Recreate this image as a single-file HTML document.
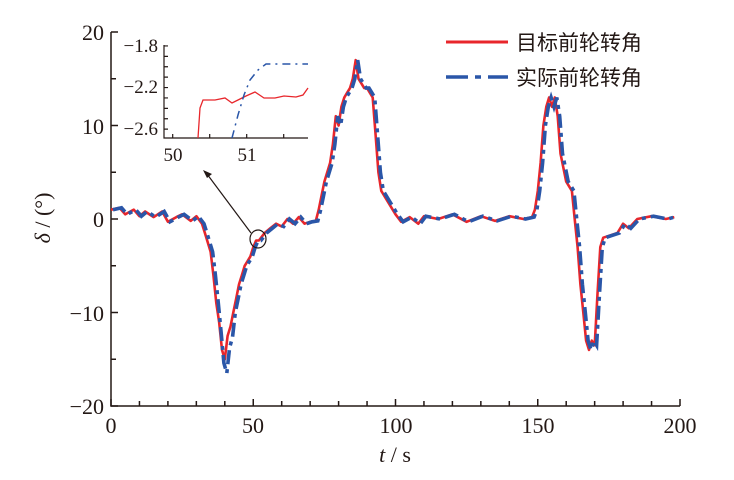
<!DOCTYPE html>
<html><head><meta charset="utf-8"><style>
body{margin:0;background:#fff;}
svg{display:block;font-family:"Liberation Serif","Noto Serif CJK SC",serif;}
</style></head><body>
<svg id="s" width="734" height="480" viewBox="0 0 734 480">
<g stroke="#231815" stroke-width="1.5" fill="none">
<path d="M111,32 V406 H680"/>
<path id="yt" d=""/><path id="xt" d=""/>
</g>
<g font-size="22" fill="#231815" text-anchor="end">
<text x="104" y="40">20</text><text x="104" y="134">10</text><text x="104" y="227">0</text>
<text x="104" y="321">−10</text><text x="104" y="414">−20</text>
</g>
<g font-size="22" fill="#231815" text-anchor="middle">
<text x="111" y="433">0</text><text x="253" y="433">50</text><text x="396" y="433">100</text>
<text x="538" y="433">150</text><text x="680" y="433">200</text>
<text x="395" y="462"><tspan font-style="italic">t</tspan> / s</text>
</g>
<text transform="translate(50,218) rotate(-90)" font-size="22" fill="#231815" text-anchor="middle"><tspan font-style="italic">δ</tspan> / (°)</text>
<path id="red" fill="none" stroke="#e8262b" stroke-width="2.6" stroke-linejoin="round"/>
<path id="blue" fill="none" stroke="#2a56a8" stroke-width="3.6" stroke-dasharray="14 5 4 5"/>
<g stroke="#231815" stroke-width="1.2" fill="none">
<path d="M164,45 V138 H308"/><path id="it" d=""/>
</g>
<g font-size="19" fill="#231815">
<text x="158" y="52" text-anchor="end">−1.8</text>
<text x="158" y="93" text-anchor="end">−2.2</text>
<text x="158" y="135" text-anchor="end">−2.6</text>
<text x="173" y="161" text-anchor="middle">50</text>
<text x="247" y="161" text-anchor="middle">51</text>
</g>
<path d="M198,138 L200,108 L203,100 L215,100 L225,98 L232,103 L240,99 L246,96 L255,92 L264,98 L275,98 L284,96 L296,97 L303,95 L308,88" fill="none" stroke="#e8262b" stroke-width="1.3"/>
<path d="M232,138 L238,115 L244,95 L250,80 L258,70 L266,64 L308,64" fill="none" stroke="#2a56a8" stroke-width="1.5" stroke-dasharray="8 5 2 5"/>
<line x1="251" y1="233" x2="207" y2="174" stroke="#231815" stroke-width="1.2"/>
<path d="M203,170 L212,174 L207,178Z" fill="#231815"/>
<ellipse cx="258" cy="239" rx="8" ry="9" fill="none" stroke="#231815" stroke-width="1.2"/>
<line x1="446" y1="42" x2="508" y2="42" stroke="#e8262b" stroke-width="3"/>
<line x1="446" y1="77" x2="508" y2="77" stroke="#2a56a8" stroke-width="3.5" stroke-dasharray="22 7 6 7"/>
<g font-size="21" fill="#231815" font-family="'Noto Sans CJK SC',sans-serif">
<text x="516" y="50">目标前轮转角</text>
<text x="516" y="85">实际前轮转角</text>
</g>
<script>
var r=[[0,1],[3,1.2],[5,0.5],[8,1],[10,0.3],[12,0.8],[15,0.2],[18,0.8],[20,-0.3],[23,0.2],[25,0.5],[28,-0.2],[30,0.3],[32,-0.5],[33,-1.5],[35,-3.5],[36,-6],[37,-9],[38,-11],[39,-14],[40,-15],[41,-12.5],[42,-11.5],[43,-10],[44,-8.5],[45,-7],[46,-6],[47,-5],[48,-4.5],[49,-4],[50,-3],[51,-2.3],[52,-2.3],[54,-1.5],[56,-1],[58,-0.5],[60,-0.8],[62,0],[64,-0.5],[66,0.2],[68,-0.5],[70,-0.3],[72,-0.2],[73,1],[75,4],[77,6],[78,8],[79,11],[80,10],[81,12],[82,13],[83,13.5],[84,14],[85,15],[86,17],[87,15],[88,14.5],[89,14],[90,14],[91,13.5],[92,13],[93,9],[94,5],[95,3],[97,2],[100,0.5],[102,-0.3],[105,0.2],[108,-0.5],[110,0.3],[115,0],[120,0.5],[125,-0.3],[130,0.3],[135,-0.2],[140,0.3],[145,0],[148,0.2],[149,1],[150,3],[151,6],[152,10],[153,12],[154,13],[155,12],[156,13],[157,11],[158,7],[160,4],[162,3],[163,0],[164,-3],[165,-7],[166,-10],[167,-13],[168,-14],[169,-13],[170,-13.5],[171,-8],[172,-3],[173,-2],[175,-1.8],[178,-1.5],[180,-0.5],[182,-1],[185,0],[190,0.3],[195,0],[198,0.2]];
function X(t){return 111+2.845*t}function Y(v){return 219-9.35*v}
function P(a,dt,k){return a.map(function(p,i){var v=p[1];if(v<-10&&p[0]<60)v=v*k;return(i?'L':'M')+X(Math.min(198,p[0]+dt)).toFixed(1)+','+Y(v).toFixed(1)}).join('')}
document.getElementById('red').setAttribute('d',P(r,0,1));
document.getElementById('blue').setAttribute('d',P(r,0.7,1.1));
var d='';for(var v=-20;v<=20;v+=5){d+='M111,'+Y(v)+'h'+(v%10?5:7);}
document.getElementById('yt').setAttribute('d',d);
d='';for(var t=0;t<=200;t+=10){d+='M'+X(t)+',406v-'+(t%50?5:7);}
document.getElementById('xt').setAttribute('d',d);
d='';for(var u=-2.6;u<=-1.79;u+=0.1){var yy=138-(u+2.685)*104;d+='M164,'+yy+'h4';}
for(var w=50;w<=51.8;w+=0.5){d+='M'+(172.7+(w-50)*74)+',138v-4';}
document.getElementById('it').setAttribute('d',d);
</script>
</svg>
</body></html>
